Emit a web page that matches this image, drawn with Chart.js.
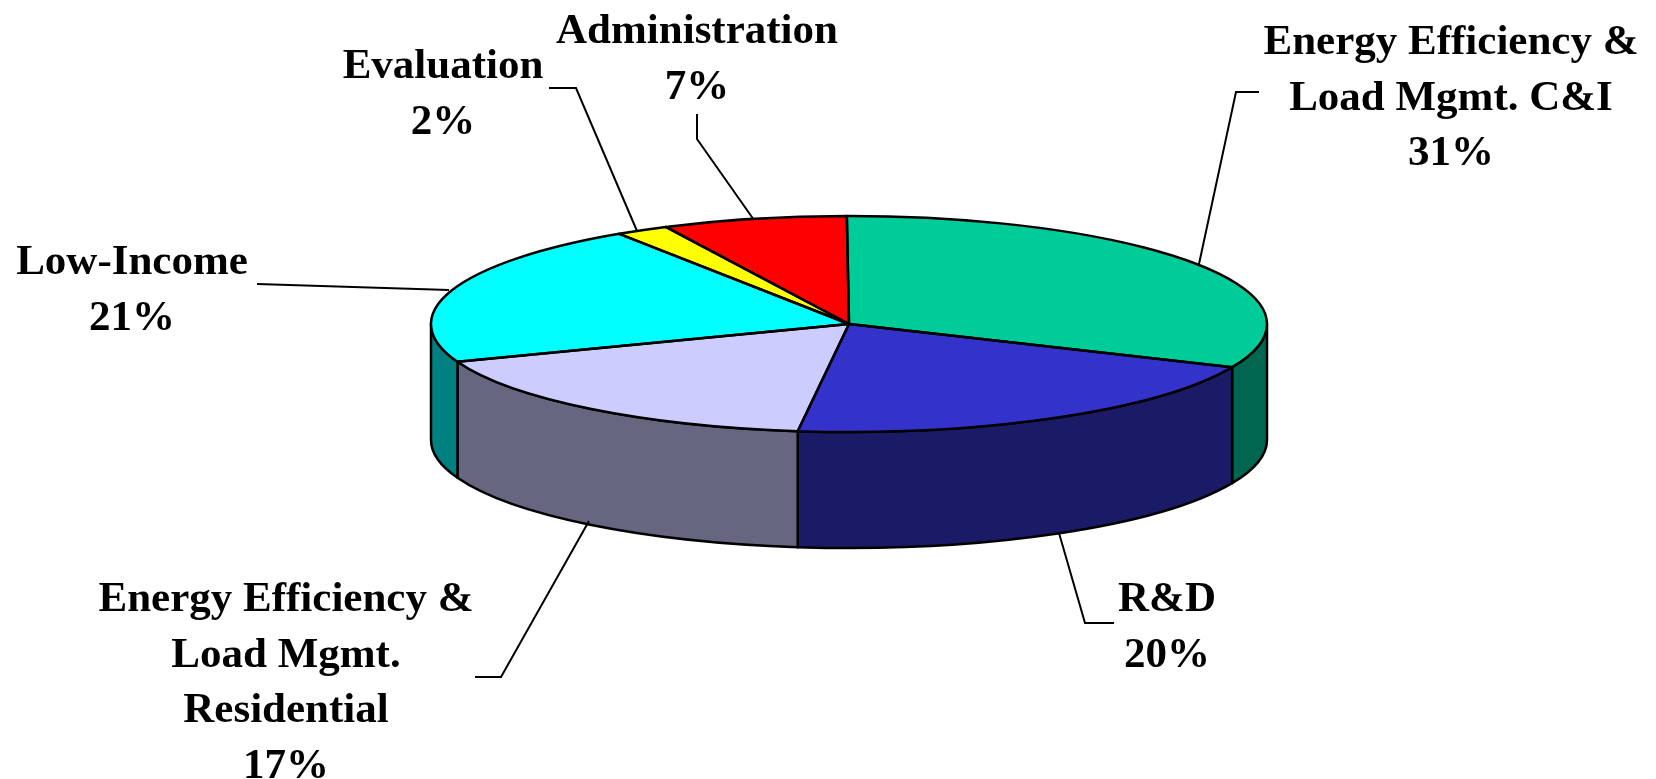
<!DOCTYPE html>
<html>
<head>
<meta charset="utf-8">
<title>Program budget shares</title>
<script src="https://cdn.jsdelivr.net/npm/chart.js@4/dist/chart.umd.min.js"></script>
<style>
  html, body { margin: 0; padding: 0; background: #fff; }
  canvas { display: block; }
</style>
</head>
<body>
<canvas id="pieChart" width="1656" height="779"></canvas>
<script>
// slices run clockwise from 12 o'clock
const categories = ['Energy Efficiency & Load Mgmt. C&I', 'R&D', 'Energy Efficiency & Load Mgmt. Residential', 'Low-Income', 'Evaluation', 'Administration'];
const shares = [31, 20, 17, 21, 2, 7];
const topColors = ['#00CC99', '#3333CC', '#CCCCFF', '#00FFFF', '#FFFF00', '#FF0000'];
const sideColors = ['#006650', '#1A1A66', '#666680', '#008080', '#808000', '#800000'];

const labelLines = [
  ['Energy Efficiency &', 'Load Mgmt. C&I'],
  ['R&D'],
  ['Energy Efficiency &', 'Load Mgmt.', 'Residential'],
  ['Low-Income'],
  ['Evaluation'],
  ['Administration']
];

// label centre x / first baseline y, then the leader polyline
const labelPos = [
  { x: 1451, y: 54, leader: [[1259, 92], [1236, 92], [1199, 264]] },
  { x: 1167, y: 611, leader: [[1114, 623], [1085, 623], [1059, 533]] },
  { x: 286, y: 611, leader: [[475, 677], [501, 677], [589, 521]] },
  { x: 132, y: 274, leader: [[257, 284], [449, 290]] },
  { x: 443, y: 78, leader: [[549, 88], [576, 88], [637, 231]] },
  { x: 697, y: 43, leader: [[697, 114], [697, 139], [754, 220]] }
];

const squash = 108 / 418;
const depth = 116;
const lineStep = 55.5;

// tilt the flat pie, add the rim underneath and stroke outlines at an even width
const tiltPlugin = {
  id: 'tilt',
  beforeDatasetsDraw(chart) {
    const ctx = chart.ctx;
    const arcs = chart.getDatasetMeta(0).data;
    const cx = arcs[0].x, cy = arcs[0].y, r = arcs[0].outerRadius;

    ctx.save();
    ctx.lineWidth = 2.5;
    ctx.strokeStyle = '#000';
    ctx.lineJoin = 'round';
    arcs.forEach((arc, i) => {
      const a1 = Math.max(arc.startAngle, 0);
      const a2 = Math.min(arc.endAngle, Math.PI);
      if (a2 <= a1) return;
      ctx.beginPath();
      ctx.ellipse(cx, cy, r, r * squash, 0, a1, a2);
      ctx.ellipse(cx, cy + depth, r, r * squash, 0, a2, a1, true);
      ctx.closePath();
      ctx.fillStyle = sideColors[i];
      ctx.fill();
      ctx.stroke();
    });
    ctx.restore();

    ctx.save();
    ctx.translate(cx, cy);
    ctx.scale(1, squash);
    ctx.translate(-cx, -cy);
  },
  afterDatasetsDraw(chart) {
    const ctx = chart.ctx;
    ctx.restore();

    const arcs = chart.getDatasetMeta(0).data;
    ctx.save();
    ctx.lineWidth = 2.5;
    ctx.strokeStyle = '#000';
    ctx.lineJoin = 'round';
    arcs.forEach(arc => {
      ctx.beginPath();
      ctx.moveTo(arc.x, arc.y);
      ctx.ellipse(arc.x, arc.y, arc.outerRadius, arc.outerRadius * squash, 0, arc.startAngle, arc.endAngle);
      ctx.closePath();
      ctx.stroke();
    });
    ctx.restore();
  },
  afterDraw(chart) {
    const ctx = chart.ctx;
    ctx.save();
    ctx.fillStyle = '#000';
    ctx.strokeStyle = '#000';
    ctx.lineWidth = 2;
    ctx.textAlign = 'center';
    ctx.textBaseline = 'alphabetic';
    ctx.font = 'bold 43px "Liberation Serif"';
    labelPos.forEach((p, i) => {
      ctx.beginPath();
      p.leader.forEach((pt, j) => j ? ctx.lineTo(pt[0], pt[1]) : ctx.moveTo(pt[0], pt[1]));
      ctx.stroke();
      const lines = labelLines[i].concat(shares[i] + '%');
      lines.forEach((line, j) => ctx.fillText(line, p.x, p.y + j * lineStep));
    });
    ctx.restore();
  }
};

new Chart(document.getElementById('pieChart'), {
  type: 'pie',
  data: {
    labels: categories,
    datasets: [{
      data: shares,
      backgroundColor: topColors,
      borderWidth: 0,
      clip: false
    }]
  },
  options: {
    responsive: false,
    animation: false,
    devicePixelRatio: 1,
    radius: 418,
    rotation: -0.3,
    layout: { padding: { left: 42, right: 0, top: 0, bottom: 131 } },
    plugins: { legend: { display: false }, tooltip: { enabled: false } }
  },
  plugins: [tiltPlugin]
});
</script>
</body>
</html>
